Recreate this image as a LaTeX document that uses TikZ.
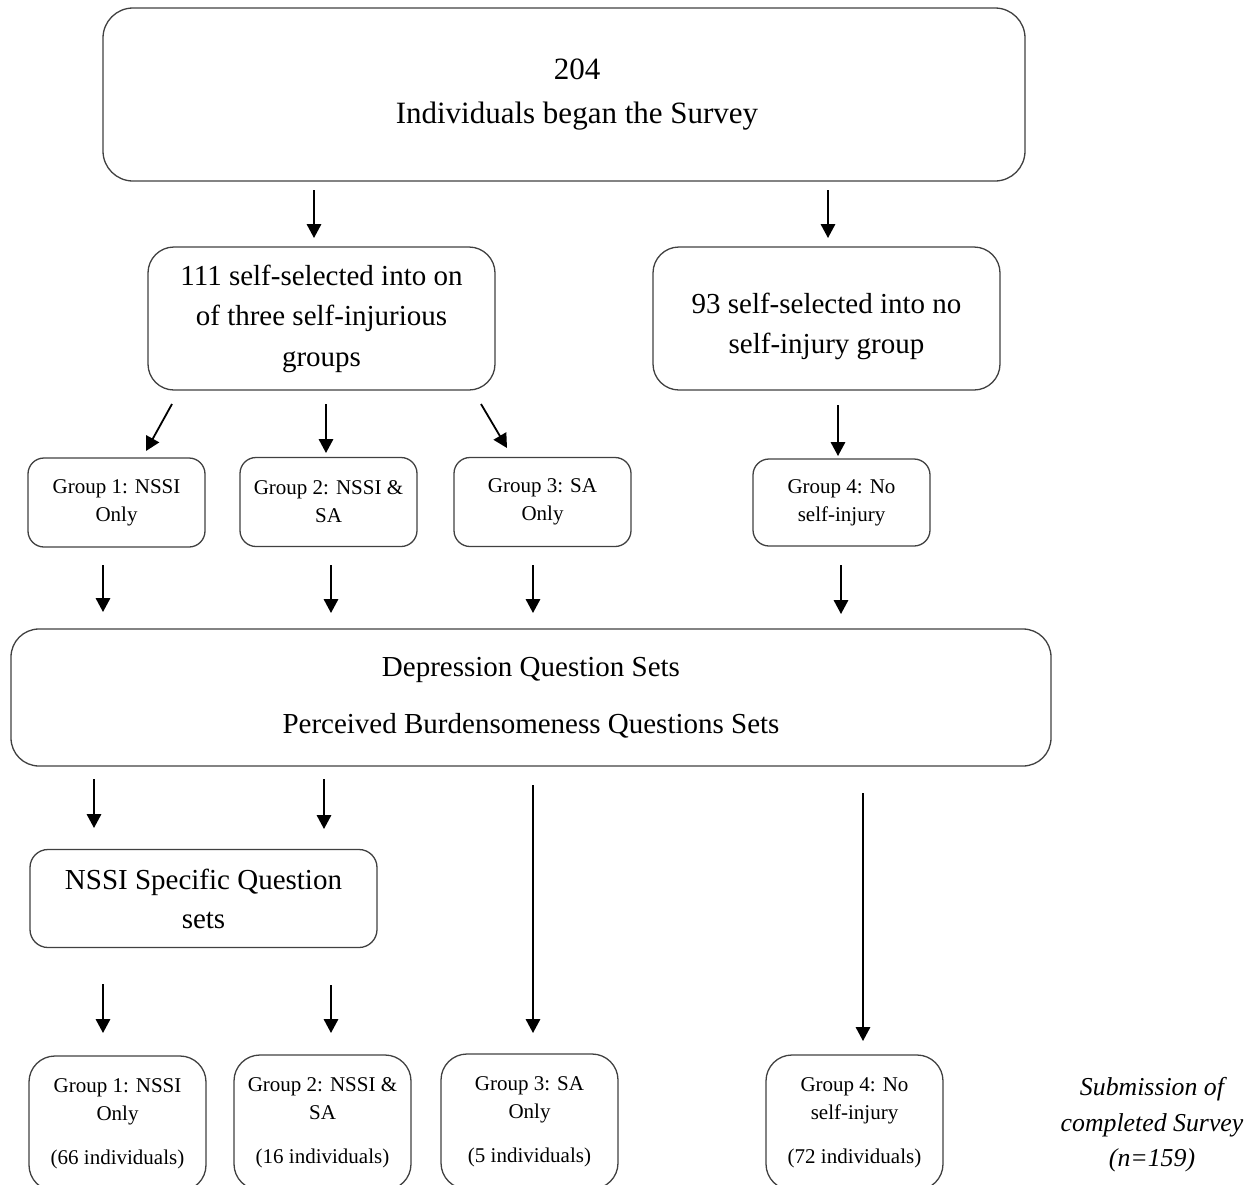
\documentclass[tikz,border=0pt]{standalone}
\usepackage{fontspec}
\setmainfont{Liberation Serif}
\usetikzlibrary{arrows.meta}

\tikzset{
  box/.style={draw=black!75, line width=1.3pt, rounded corners=#1, align=center, inner sep=0pt},
  box/.default=16pt,
  arr/.style={line width=1.8pt, -{Triangle[width=14.5pt,length=14pt]}},
  bigtxt/.style={font=\fontsize{29}{40.5}\selectfont},
  smalltxt/.style={font=\fontsize{21}{28}\selectfont},
}

\begin{document}
\begin{tikzpicture}[x=1pt, y=-1pt]
\path[use as bounding box] (0,0) rectangle (1259,1184);
\clip (0,0) rectangle (1259,1184);

% start of the survey
\node[box=30pt, minimum width=922pt, minimum height=173pt,
      font=\fontsize{31}{44}\selectfont] (start) at (564,94.5)
  {\hspace*{26pt}204\\\hspace*{26pt}Individuals began the Survey};

% self-selection
\node[box=26pt, minimum width=347pt, minimum height=143pt, bigtxt] (sel) at (321.5,318.5)
  {111 self-selected into on\\of three self-injurious\\groups};
\node[box=26pt, minimum width=347pt, minimum height=143pt,
      label={[bigtxt, align=center, inner sep=0pt, yshift=-8pt]center:93 self-selected into no\\self-injury group}]
  (nosel) at (826.5,318.5) {};

% the four groups
\node[box, minimum width=177pt, minimum height=89pt, smalltxt] (g1) at (116.5,502.5) {Group 1: NSSI\\Only};
\node[box, minimum width=177pt, minimum height=89pt, smalltxt] (g2) at (328.5,502) {Group 2: NSSI \&\\SA};
\node[box, minimum width=177pt, minimum height=89pt, smalltxt] (g3) at (542.5,502) {Group 3: SA\\Only};
\node[box, minimum width=177pt, minimum height=87pt, smalltxt] (g4) at (841.5,502.5) {Group 4: No\\self-injury};

% common question sets
\node[box=28pt, minimum width=1040pt, minimum height=137pt,
      font=\fontsize{29}{57}\selectfont] (common) at (531,697.5)
  {Depression Question Sets\\Perceived Burdensomeness Questions Sets};

% NSSI-specific question sets
\node[box=18pt, minimum width=347pt, minimum height=98pt,
      font=\fontsize{29}{39}\selectfont] (nssi) at (203.5,898.5)
  {NSSI Specific Question\\sets};

% completed groups
\node[box=26pt, minimum width=177pt, minimum height=135pt, smalltxt] (f1) at (117.5,1123.5)
  {Group 1: NSSI\\Only\\[16pt](66 individuals)};
\node[box=26pt, minimum width=177pt, minimum height=135pt, smalltxt] (f2) at (322.5,1122.5)
  {Group 2: NSSI \&\\SA\\[16pt](16 individuals)};
\node[box=26pt, minimum width=177pt, minimum height=135pt, smalltxt] (f3) at (529.5,1121.5)
  {Group 3: SA\\Only\\[16pt](5 individuals)};
\node[box=26pt, minimum width=177pt, minimum height=135pt, smalltxt] (f4) at (854.5,1122.5)
  {Group 4: No\\self-injury\\[16pt](72 individuals)};

\node[align=center, inner sep=0pt, font=\fontsize{25.8}{35.5}\selectfont\itshape] (done) at (1152,1125)
  {Submission of\\completed Survey\\(n=159)};

% connector end points
\coordinate (a1s) at (314,190);  \coordinate (a1e) at (314,238);
\coordinate (a2s) at (828,190);  \coordinate (a2e) at (828,238);
\coordinate (b1s) at (172,404);  \coordinate (b1e) at (146,451);
\coordinate (b2s) at (326,404);  \coordinate (b2e) at (326,453);
\coordinate (b3s) at (481,404);  \coordinate (b3e) at (507,448);
\coordinate (b4s) at (838,405);  \coordinate (b4e) at (838,456);
\coordinate (c1s) at (103,565);  \coordinate (c1e) at (103,612);
\coordinate (c2s) at (331,565);  \coordinate (c2e) at (331,613);
\coordinate (c3s) at (533,565);  \coordinate (c3e) at (533,613);
\coordinate (c4s) at (841,565);  \coordinate (c4e) at (841,614);
\coordinate (d1s) at (94,779);   \coordinate (d1e) at (94,828);
\coordinate (d2s) at (324,779);  \coordinate (d2e) at (324,829);
\coordinate (d3s) at (533,785);  \coordinate (d3e) at (533,1033);
\coordinate (d4s) at (863,793);  \coordinate (d4e) at (863,1041);
\coordinate (e1s) at (103,984);  \coordinate (e1e) at (103,1033);
\coordinate (e2s) at (331,985);  \coordinate (e2e) at (331,1033);

\foreach \p in {a1,a2,b1,b2,b3,b4,c1,c2,c3,c4,d1,d2,d3,d4,e1,e2}
  \draw[arr] (\p s) -- (\p e);
\end{tikzpicture}
\end{document}
